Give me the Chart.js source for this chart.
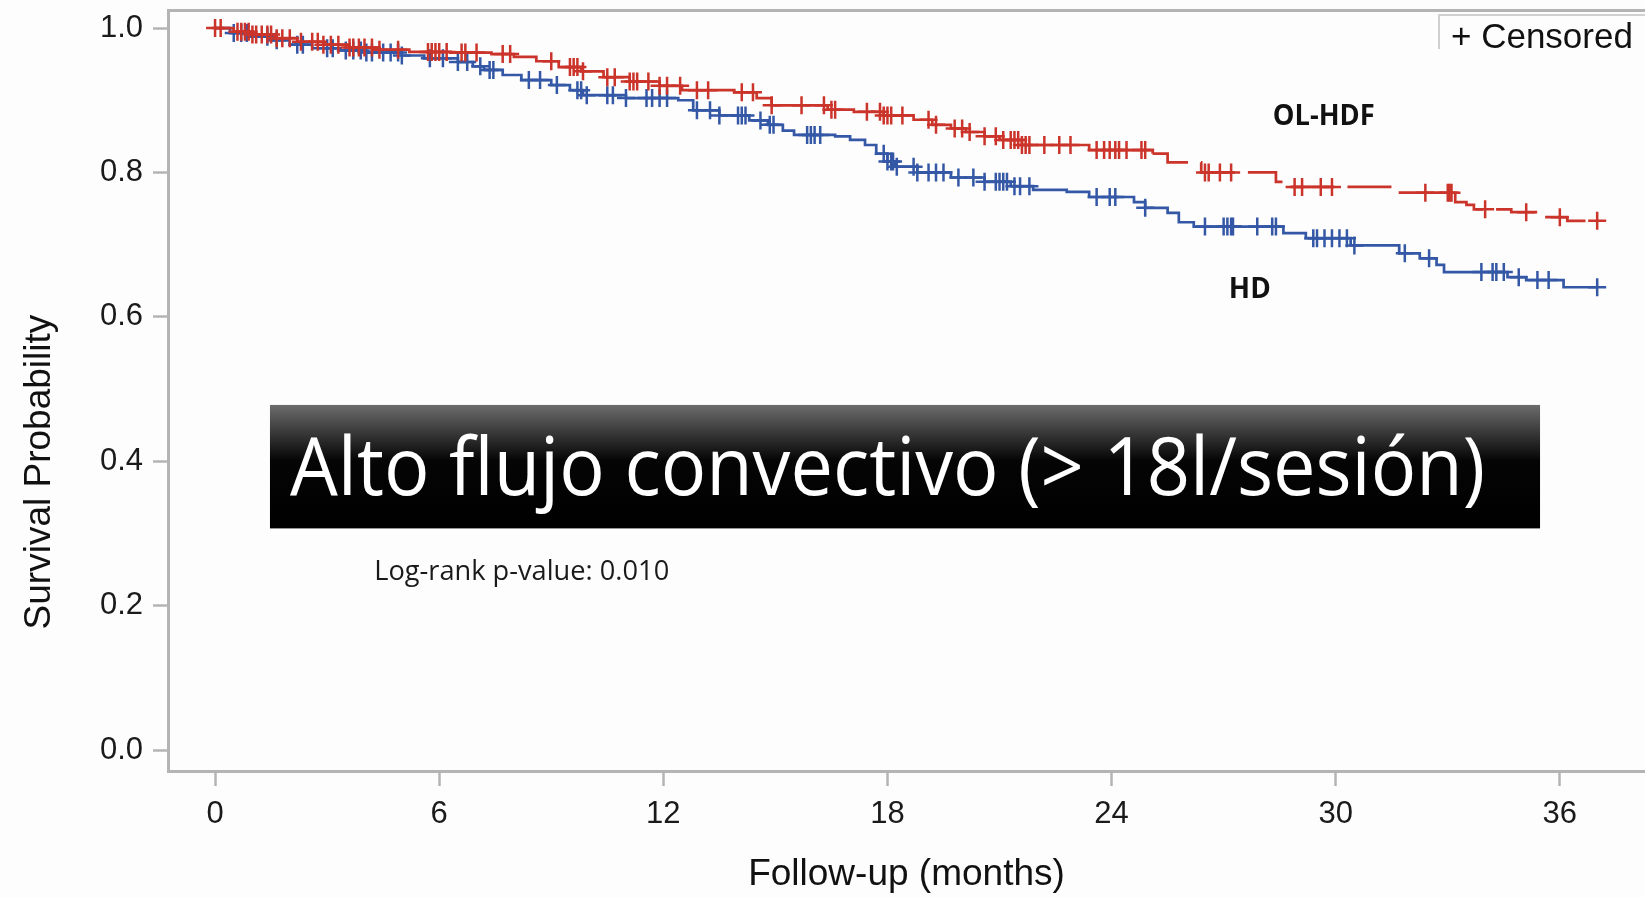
<!DOCTYPE html>
<html>
<head>
<meta charset="utf-8">
<script src="https://cdn.jsdelivr.net/npm/chart.js@4.4.1/dist/chart.umd.min.js"></script>
<style>
  html, body { margin: 0; padding: 0; background: #fdfdfd; overflow: hidden; }
  #wrap { width: 1645px; height: 897px; }
  canvas { display: block; }
</style>
</head>
<body>
<div id="wrap"><canvas id="kmChart" width="1645" height="897"></canvas></div>
<script>
// --- Axis ticks ---
const xTicks = [0, 6, 12, 18, 24, 30, 36];
const yTicks = [0, 0.2, 0.4, 0.6, 0.8, 1.0];

// --- OL-HDF (red): step times (months) and survival after each drop ---
const hdfTimes = [0, 0.5, 1.0, 1.6, 2.2, 2.9, 3.6, 4.4, 5.2, 6.3, 7.4, 8.0, 8.6, 9.2, 9.8,
  10.4, 11.1, 11.9, 12.5, 13.9, 14.5, 14.9, 16.4, 17.1, 17.9, 18.7, 19.2, 19.7, 20.1,
  20.6, 21.0, 21.6, 23.4, 25.1, 25.5, 26.4, 28.4, 28.7, 31.5, 33.2, 33.5, 33.7, 34.7,
  35.6, 36.2, 37.0];
const hdfSurv = [1.0, 0.995, 0.991, 0.986, 0.981, 0.977, 0.973, 0.970, 0.967, 0.966, 0.964,
  0.960, 0.954, 0.946, 0.940, 0.932, 0.926, 0.920, 0.914, 0.911, 0.903, 0.893, 0.887,
  0.884, 0.879, 0.873, 0.866, 0.861, 0.856, 0.850, 0.845, 0.838, 0.831, 0.826, 0.814,
  0.800, 0.787, 0.780, 0.772, 0.759, 0.755, 0.749, 0.745, 0.738, 0.733, 0.733];
const hdfCensored = [0, 0.15, 0.6, 0.7, 0.8, 0.9, 1.0, 1.1, 1.25, 1.4, 1.5, 1.65, 1.8, 2.0,
  2.3, 2.6, 2.75, 2.9, 3.1, 3.3, 3.6, 3.7, 3.85, 4.0, 4.2, 4.4, 4.9, 5.7, 5.8, 5.9, 6.0,
  6.2, 6.6, 6.7, 7.0, 7.7, 7.9, 9.0, 9.5, 9.6, 9.7, 9.85, 10.5, 10.7, 11.1, 11.2, 11.3,
  11.6, 11.9, 12.1, 12.45, 12.9, 13.2, 14.1, 14.4, 14.9, 15.7, 16.3, 16.5, 16.6, 17.45,
  17.8, 17.9, 18.0, 18.1, 18.4, 19.1, 19.3, 19.8, 20.0, 20.2, 20.6, 20.9, 21.1, 21.3,
  21.4, 21.5, 21.6, 21.7, 21.8, 22.2, 22.6, 22.9, 23.6, 23.8, 23.95, 24.1, 24.2, 24.4,
  24.8, 24.9, 26.5, 26.6, 26.9, 27.2, 28.9, 29.1, 29.6, 29.9, 32.4, 33.0, 33.05, 33.1,
  34.0, 35.1, 36.0, 37.0];

// --- HD (blue) ---
const hdTimes = [0, 0.4, 0.9, 1.5, 2.0, 2.6, 3.3, 4.0, 5.0, 5.6, 6.5, 6.9, 7.2, 7.7, 8.2,
  9.0, 9.5, 9.85, 11.0, 12.4, 12.8, 13.5, 14.3, 14.8, 15.2, 15.5, 16.6, 17.0, 17.4, 17.7,
  18.0, 18.2, 18.8, 19.7, 20.6, 21.3, 21.9, 22.8, 23.4, 24.6, 24.9, 25.5, 25.8, 26.2,
  28.6, 29.2, 30.4, 31.7, 32.25, 32.7, 32.9, 34.6, 35.1, 36.1, 37.0];
const hdSurv = [1.0, 0.993, 0.988, 0.983, 0.977, 0.972, 0.969, 0.966, 0.962, 0.958, 0.953,
  0.947, 0.942, 0.935, 0.928, 0.921, 0.914, 0.907, 0.903, 0.900, 0.886, 0.879, 0.872,
  0.866, 0.858, 0.852, 0.850, 0.845, 0.838, 0.826, 0.815, 0.808, 0.800, 0.793, 0.787,
  0.781, 0.776, 0.773, 0.766, 0.759, 0.751, 0.744, 0.731, 0.725, 0.716, 0.709, 0.699,
  0.688, 0.681, 0.672, 0.662, 0.655, 0.651, 0.641, 0.641];
const hdCensored = [0.5, 0.7, 0.85, 1.4, 1.65, 2.2, 2.35, 3.0, 3.15, 3.5, 3.7, 3.9, 4.05,
  4.2, 4.5, 4.7, 4.9, 5.0, 5.75, 6.1, 6.5, 6.75, 7.1, 7.35, 7.45, 8.4, 8.7, 9.15, 9.7,
  9.8, 9.95, 10.5, 10.65, 11.0, 11.55, 11.7, 11.9, 12.1, 12.9, 13.25, 13.5, 14.0, 14.1,
  14.2, 14.6, 14.85, 14.95, 15.85, 15.95, 16.05, 16.2, 17.9, 18.0, 18.1, 18.15, 18.25,
  18.7, 18.8, 19.1, 19.3, 19.5, 19.9, 20.3, 20.6, 20.9, 21.0, 21.1, 21.2, 21.4, 21.55,
  21.8, 23.6, 23.95, 24.1, 24.9, 26.5, 27.0, 27.1, 27.2, 27.25, 27.9, 28.3, 28.4, 29.4,
  29.5, 29.7, 29.9, 30.1, 30.3, 30.5, 31.85, 32.5, 33.9, 34.2, 34.3, 34.5, 34.9, 35.4,
  35.7, 37.0];

const RED = 'rgb(203, 52, 42)';
const BLUE = 'rgb(52, 88, 166)';
const AXIS_GREY = '#b4b4b4';
const SANS = '"Liberation Sans", Arial, sans-serif';

// survival level of a step curve at time t (for placing the censor marks)
function survAt(times, surv, t) {
  let s = surv[0];
  for (let i = 0; i < times.length; i++) {
    if (times[i] <= t) s = surv[i];
    else break;
  }
  return s;
}

function stepPoints(times, surv) {
  return times.map((t, i) => ({ x: t, y: surv[i] }));
}

function censorPoints(cens, times, surv) {
  return cens.map(t => ({ x: t, y: survAt(times, surv, t) }));
}

// --- Overlay: y title, legend box, group labels, p-value and the slide caption ---
const overlayPlugin = {
  id: 'overlay',
  afterDraw(chart) {
    const { ctx, chartArea, scales } = chart;
    const x = scales.x, y = scales.y;
    ctx.save();

    // y axis title (sits lower than the axis centre in the original)
    ctx.save();
    ctx.translate(40, y.getPixelForValue(0.385));
    ctx.rotate(-Math.PI / 2);
    ctx.fillStyle = '#111';
    ctx.font = '37px ' + SANS;
    ctx.textAlign = 'center';
    ctx.textBaseline = 'middle';
    ctx.fillText('Survival Probability', 0, 0);
    ctx.restore();

    // "+ Censored" legend box
    const lx = chartArea.right - 206;
    const ly = chartArea.top + 5;
    ctx.strokeStyle = '#d0d0d0';
    ctx.lineWidth = 2;
    ctx.beginPath();
    ctx.moveTo(lx, ly + 34);
    ctx.lineTo(lx, ly);
    ctx.lineTo(chartArea.right, ly);
    ctx.stroke();
    ctx.fillStyle = '#111';
    ctx.font = '35px ' + SANS;
    ctx.textAlign = 'left';
    ctx.textBaseline = 'alphabetic';
    ctx.fillText('+ Censored', lx + 12, ly + 33);

    // group labels
    ctx.font = 'bold 29px "Open Sans", sans-serif';
    ctx.textAlign = 'center';
    ctx.textBaseline = 'middle';
    ctx.fillStyle = '#111';
    ctx.fillText('OL-HDF', x.getPixelForValue(29.68), y.getPixelForValue(0.877), 102);
    ctx.fillText('HD', x.getPixelForValue(27.7), y.getPixelForValue(0.637), 42);

    // log-rank
    ctx.font = '28px "Open Sans", sans-serif';
    ctx.textAlign = 'left';
    ctx.fillStyle = '#1a1a1a';
    ctx.fillText('Log-rank p-value: 0.010', x.getPixelForValue(4.26), y.getPixelForValue(0.247), 295);

    // caption box
    const bl = x.getPixelForValue(1.47), br = x.getPixelForValue(35.47);
    const bt = y.getPixelForValue(0.478), bb = y.getPixelForValue(0.307);
    const grad = ctx.createLinearGradient(0, bt, 0, bb);
    grad.addColorStop(0, '#6c6c6c');
    grad.addColorStop(0.45, '#050505');
    grad.addColorStop(1, '#000000');
    ctx.fillStyle = grad;
    ctx.fillRect(bl, bt, br - bl, bb - bt);
    ctx.fillStyle = '#ffffff';
    ctx.font = '80px "Open Sans", sans-serif';
    ctx.textAlign = 'left';
    ctx.textBaseline = 'alphabetic';
    ctx.fillText('Alto flujo convectivo (> 18l/sesión)', bl + 20, bt + 90, 1195);

    ctx.restore();
  }
};

const tickFont = { family: SANS, size: 31 };
const titleFont = { family: SANS, size: 37 };

const ctx = document.getElementById('kmChart').getContext('2d');
const chart = new Chart(ctx, {
  type: 'line',
  data: {
    datasets: [
      {
        label: 'OL-HDF censored',
        data: censorPoints(hdfCensored, hdfTimes, hdfSurv),
        showLine: false,
        pointStyle: 'cross',
        pointRadius: 9,
        pointBorderWidth: 2.5,
        borderColor: RED,
        backgroundColor: RED
      },
      {
        label: 'OL-HDF',
        data: stepPoints(hdfTimes, hdfSurv),
        stepped: 'before',
        borderColor: RED,
        borderWidth: 2.7,
        pointRadius: 0,
        fill: false,
        segment: {
          borderDash: c => c.p0.parsed.x >= 25 ? [44, 13] : undefined
        }
      },
      {
        label: 'HD censored',
        data: censorPoints(hdCensored, hdTimes, hdSurv),
        showLine: false,
        pointStyle: 'cross',
        pointRadius: 9,
        pointBorderWidth: 2.5,
        borderColor: BLUE,
        backgroundColor: BLUE
      },
      {
        label: 'HD',
        data: stepPoints(hdTimes, hdSurv),
        stepped: 'before',
        borderColor: BLUE,
        borderWidth: 2.7,
        pointRadius: 0,
        fill: false
      }
    ]
  },
  options: {
    responsive: false,
    animation: false,
    devicePixelRatio: 1,
    layout: { padding: 0, autoPadding: false },
    scales: {
      x: {
        type: 'linear',
        position: 'bottom',
        min: -1.26,
        max: 38.28,
        afterBuildTicks: s => { s.ticks = xTicks.map(v => ({ value: v })); },
        afterFit: s => { s.height = 126; s.paddingLeft = 0; s.paddingRight = 0; },
        ticks: { font: tickFont, color: '#1a1a1a', padding: 10 },
        grid: { drawOnChartArea: false, tickLength: 15, tickColor: AXIS_GREY, tickWidth: 2.5 },
        border: { color: AXIS_GREY, width: 3 },
        title: { display: true, text: 'Follow-up (months)', font: titleFont, color: '#111', padding: 0 }
      },
      xTop: {
        type: 'linear',
        position: 'top',
        min: -1.26,
        max: 38.28,
        afterFit: s => { s.height = 10; s.paddingLeft = 0; s.paddingRight = 0; },
        ticks: { display: false },
        grid: { display: false },
        border: { color: AXIS_GREY, width: 3 }
      },
      y: {
        type: 'linear',
        min: -0.029,
        max: 1.025,
        afterBuildTicks: s => { s.ticks = yTicks.map(v => ({ value: v })); },
        afterFit: s => { s.width = 168; s.paddingTop = 0; s.paddingBottom = 0; },
        ticks: { font: tickFont, color: '#1a1a1a', padding: 10, callback: v => v.toFixed(1) },
        grid: { drawOnChartArea: false, tickLength: 15, tickColor: AXIS_GREY, tickWidth: 2.5 },
        border: { color: AXIS_GREY, width: 3 },
        title: { display: false }
      }
    },
    plugins: {
      legend: { display: false },
      tooltip: { enabled: false }
    }
  },
  plugins: [overlayPlugin]
});
</script>
</body>
</html>
